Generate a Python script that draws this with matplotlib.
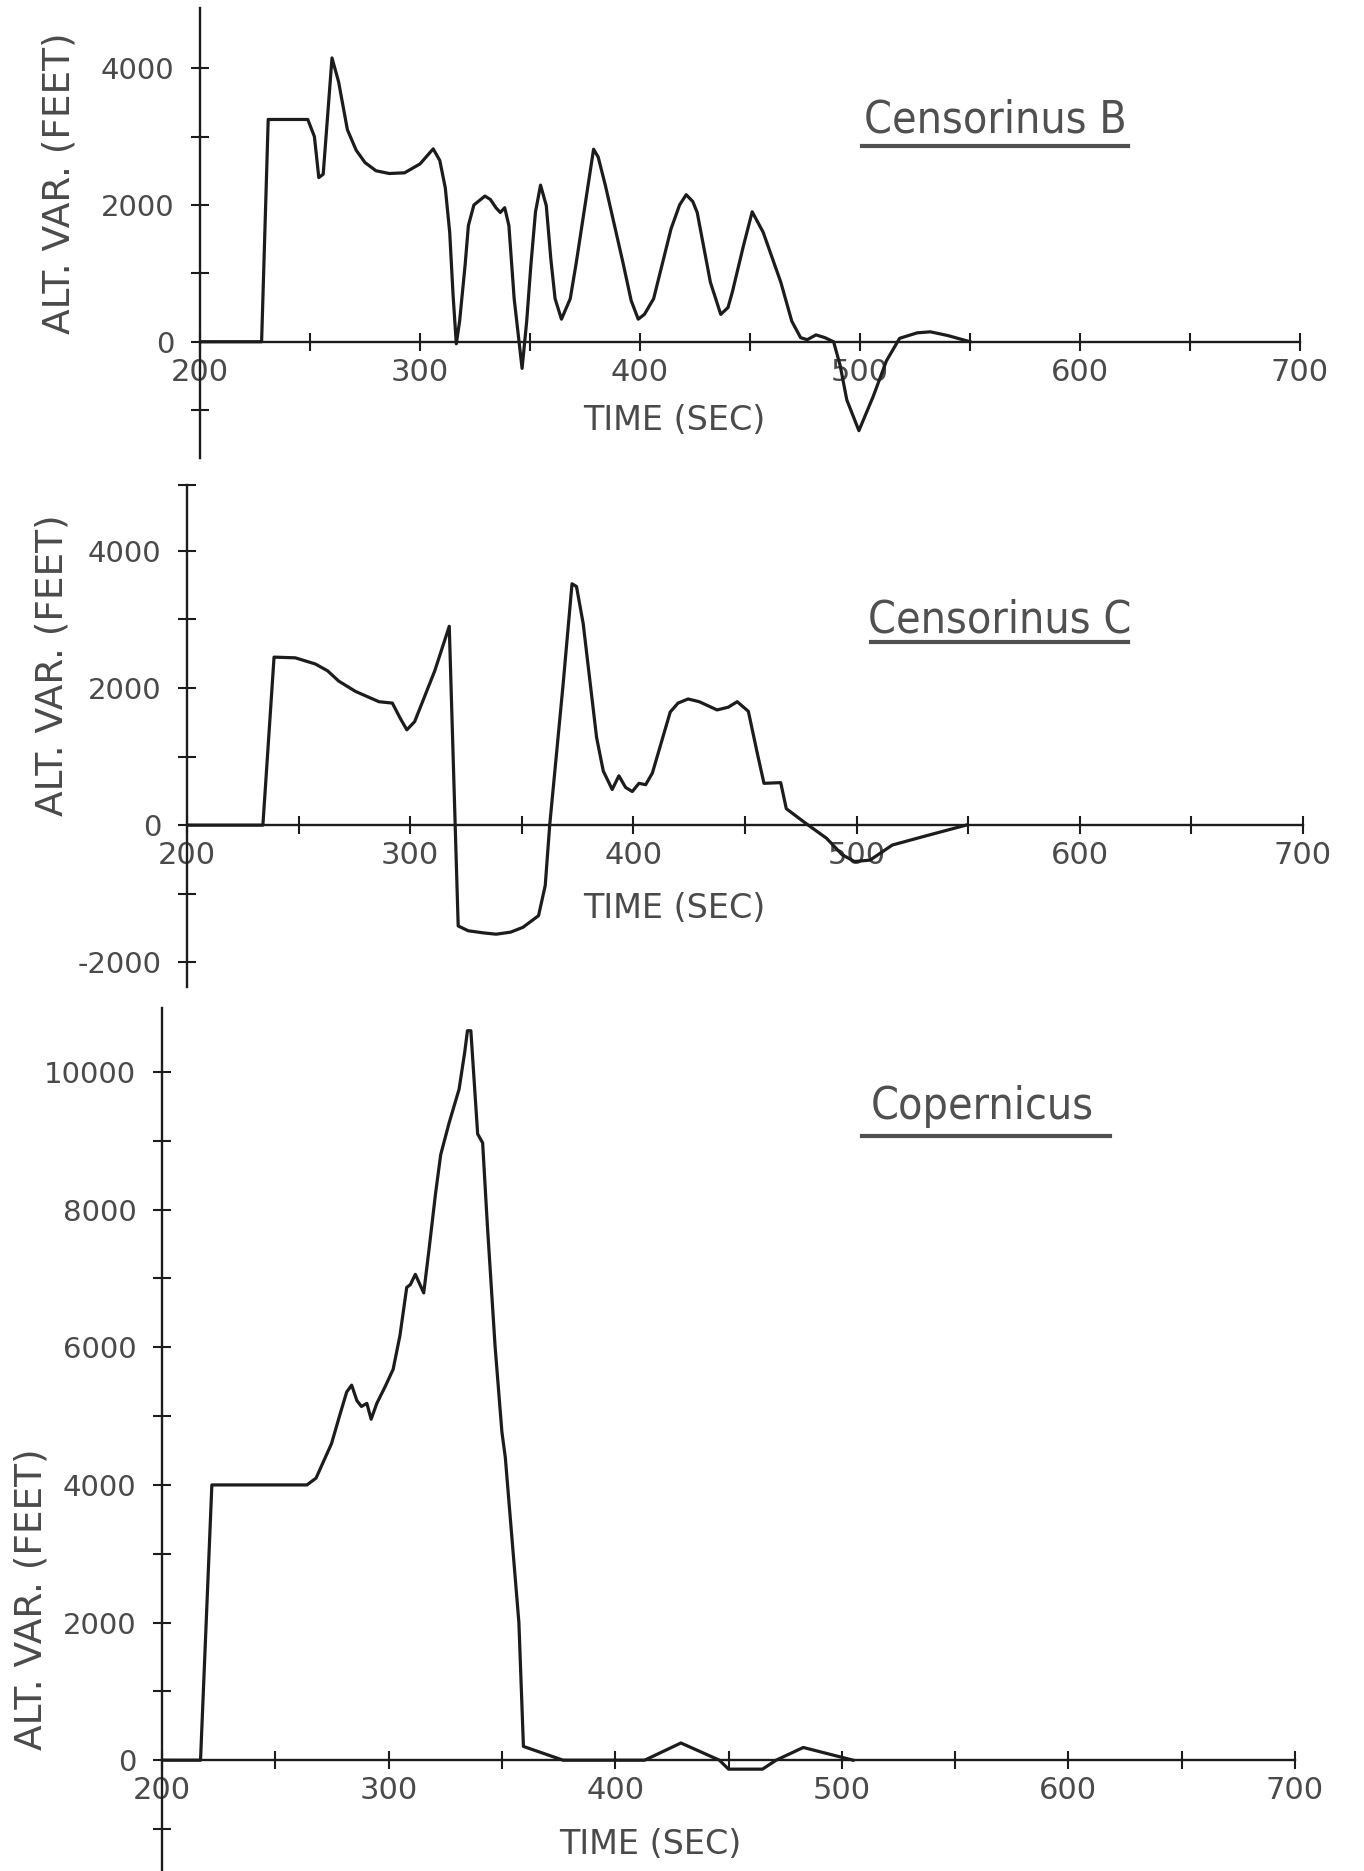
import matplotlib
matplotlib.use("Agg")
import matplotlib.pyplot as plt
from matplotlib.lines import Line2D
from matplotlib.ticker import FixedLocator, NullFormatter

W, H = 1364, 1871

# ---------------- data ----------------
x_major = [200, 300, 400, 500, 600, 700]
x_minor = [250, 350, 450, 550, 650]

titles = ["Censorinus B", "Censorinus C", "Copernicus"]
y_label = "ALT. VAR. (FEET)"
x_label = "TIME (SEC)"

cb_time = [200, 228, 231, 249, 252, 254, 256, 260, 263, 267, 271, 275, 280, 286, 293,
           300, 306, 309, 311.5, 313.5, 315, 316.5, 318, 320.5, 322, 324.5, 329.5, 332,
           334.5, 336.5, 338.5, 340.4, 342.8, 346.4, 348.5, 350.4, 352.5, 354.8, 357.4,
           359.5, 361.4, 364.3, 368.3, 371, 374.3, 378.9, 381, 384.3, 392.2, 396, 399.2,
           402, 406.2, 414.1, 418, 421, 424, 426, 432, 436.7, 440, 442, 447, 451, 456,
           464, 469, 473, 476, 480, 484, 488, 491, 494, 499.5, 506, 512, 518, 526, 532,
           540, 550]
cb_alt = [0, 0, 3250, 3250, 3000, 2400, 2450, 4150, 3800, 3100, 2800, 2620, 2500, 2460, 2470,
          2600, 2820, 2650, 2250, 1600, 700, -30, 300, 1120, 1700, 2000, 2130, 2080,
          1960, 1890, 1960, 1700, 630, -390, 300, 1120, 1900, 2290, 1990,
          1200, 630, 330, 630, 1150, 1845, 2815, 2700, 2280, 1165, 600, 330,
          400, 630, 1650, 2000, 2150, 2050, 1890, 870, 400, 500, 730, 1400, 1900, 1600,
          870, 300, 60, 30, 100, 60, 0, -350, -850, -1300, -800, -280, 50, 130, 145,
          90, 0]

cc_time = [200, 234, 239, 248.5, 257.5, 263, 268, 275.5, 286, 292, 295.5, 298.5, 302, 311,
           317.5, 321.5, 326, 332.6, 338.5, 345, 350.5, 357.5, 360.5, 362.5, 368.5, 372.5,
           374.5, 377.5, 383.5, 386.5, 390.5, 393.5, 396.5, 399.5, 402.5, 405.5, 408.5,
           416.5, 420, 424.5, 429.5, 437.5, 442.5, 446.5, 451.5, 455.5, 458.5, 466, 468.5,
           477.5, 486.5, 493.5, 499, 506, 516, 530.6, 549]
cc_alt = [0, 0, 2450, 2440, 2350, 2250, 2100, 1950, 1800, 1780, 1560, 1390, 1510, 2250,
          2900, -1470, -1540, -1570, -1590, -1560, -1490, -1320, -880, 0, 2050, 3520,
          3480, 2940, 1280, 790, 520, 720, 550, 490, 610, 590, 760,
          1650, 1780, 1840, 1800, 1680, 1720, 1800, 1660, 1050, 610, 620, 240,
          20, -190, -430, -530, -510, -290, -160, 0]

cop_time = [200, 217, 222, 264, 268, 274.8, 278.5, 281.5, 283.7, 286, 288, 290.4, 292.3,
            294.8, 298.5, 302, 305, 308, 309.6, 311.8, 313.3, 315.5, 317.8, 320.7, 323,
            326.7, 331.1, 333.6, 334.8, 336.3, 339.3, 341.5, 343.5, 347, 350, 351.5,
            355, 357.5, 359.5, 377, 413, 429, 446, 450, 465, 471, 483, 505]
cop_alt = [0, 0, 4000, 4000, 4100, 4600, 5020, 5350, 5450, 5225, 5140, 5185, 4955,
           5185, 5430, 5680, 6170, 6870, 6910, 7060, 6950, 6790, 7410, 8230, 8800,
           9260, 9750, 10290, 10600, 10600, 9100, 8970, 7820, 6010, 4770, 4400,
           3000, 2000, 200, 0, 0, 250, 0, -130, -130, 0, 185, 0]

panels = [
    dict(t=cb_time, v=cb_alt, ylim=(-1700, 4880), ymaj=[0, 2000, 4000],
         ymin=[-1000, 1000, 3000], box=(200, 8, 1300, 458),
         ylab=(60, 183), xlab=(674, 420), title=(995, 120), ul=(862, 1128, 146)),
    dict(t=cc_time, v=cc_alt, ylim=(-2360, 4960), ymaj=[-2000, 0, 2000, 4000],
         ymin=[-1000, 1000, 3000, 4960], box=(187, 485, 1303, 987),
         ylab=(53, 665), xlab=(674, 909), title=(1000, 620), ul=(871, 1128, 642)),
    dict(t=cop_time, v=cop_alt, ylim=(-1610, 10930), ymaj=[0, 2000, 4000, 6000, 8000, 10000],
         ymin=[-1000, 1000, 3000, 5000, 7000, 9000], box=(162, 1008, 1295, 1871),
         ylab=(32, 1599), xlab=(650, 1844), title=(982, 1107), ul=(862, 1110, 1136)),
]

INK = "#1c1c1c"
TXT = "#4a4a4a"

fig = plt.figure(figsize=(W / 100, H / 100), dpi=100)
fig.patch.set_facecolor("white")


def fx(px):
    return px / W


def fy(py):
    return 1 - py / H


for i, p in enumerate(panels):
    l, t, r, b = p["box"]
    ax = fig.add_axes([fx(l), fy(b), (r - l) / W, (b - t) / H])
    ax.set_facecolor("none")
    ax.plot(p["t"], p["v"], color=INK, lw=2.3, solid_joinstyle="round")
    ax.set_xlim(200, 700)
    ax.set_ylim(*p["ylim"])
    for s in ("top", "right"):
        ax.spines[s].set_visible(False)
    ax.spines["bottom"].set_position(("data", 0))
    for s in ("left", "bottom"):
        ax.spines[s].set_color(INK)
        ax.spines[s].set_linewidth(1.7)
    ax.xaxis.set_major_locator(FixedLocator(x_major))
    ax.xaxis.set_minor_locator(FixedLocator(x_minor))
    ax.yaxis.set_major_locator(FixedLocator(p["ymaj"]))
    ax.yaxis.set_minor_locator(FixedLocator(p["ymin"]))
    ax.xaxis.set_minor_formatter(NullFormatter())
    ax.yaxis.set_minor_formatter(NullFormatter())
    ax.set_xticklabels([str(v) for v in x_major])
    ax.set_yticklabels([str(v) for v in p["ymaj"]])
    ax.tick_params(which="both", direction="inout", length=13, width=1.5, color=INK,
                   labelcolor=TXT)
    ax.tick_params(axis="x", which="major", pad=5, labelsize=22)
    ax.tick_params(axis="y", which="major", pad=12, labelsize=21)

    fig.text(fx(p["ylab"][0]), fy(p["ylab"][1]), y_label, rotation=90, ha="center",
             va="center", fontsize=27, color=TXT, family="DejaVu Sans")
    fig.text(fx(p["xlab"][0]), fy(p["xlab"][1]), x_label, ha="center", va="center",
             fontsize=24, color=TXT, family="DejaVu Sans")
    fig.text(fx(p["title"][0]), fy(p["title"][1]), titles[i], ha="center", va="center",
             fontsize=32, color="#505050", family="DejaVu Sans", fontstretch="condensed")
    x0, x1, yu = p["ul"]
    fig.add_artist(Line2D([fx(x0), fx(x1)], [fy(yu), fy(yu)], transform=fig.transFigure,
                          color="#505050", lw=3))

fig.savefig("out.png", dpi=100, facecolor="white")
